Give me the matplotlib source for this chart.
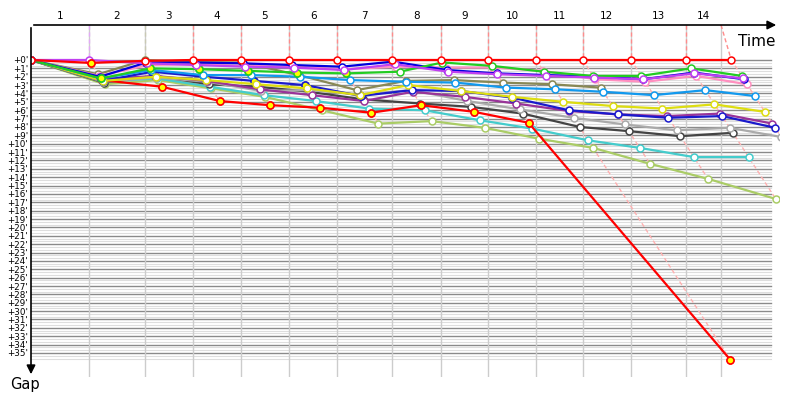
import matplotlib
matplotlib.use("Agg")
import matplotlib.pyplot as plt
from matplotlib.colors import to_rgb

# leader crossing times (minutes from start), lap 0..14
lap_times = [0, 10.7, 21.0, 29.9, 38.7, 47.6, 56.5, 66.6, 75.6, 84.3, 93.2, 101.8, 110.7, 120.8, 129.2]
finish_time = 127.3
lap_labels = [str(i) for i in range(1, 15)]

# gap to leader (minutes) at each lap
gap_red = [0, 0.35, 0.1, 0, 0, 0, 0, 0, 0, 0, 0, 0, 0, 0, 0]
gap_magenta = [0, 0, 0.4, 0.6, 0.8, 0.9, 1.2, 0.5, 1.4, 1.7, 1.9, 2.1, 2.3, 1.6, 2.2]
gap_green = [0, 2.2, 1.0, 1.1, 1.3, 1.5, 1.6, 1.4, 0.3, 0.7, 1.4, 1.9, 1.9, 1.0, 1.9]
gap_blue1 = [0, 2.0, 0.3, 0.3, 0.4, 0.6, 0.8, 0.2, 1.2, 1.6, 1.8, 2.0, 2.3, 1.5, 2.3]
gap_pink = [0, 1.9, 0.6, 0.5, 0.7, 0.8, 1.1, 0.8, 0.9, 0.9, 1.3, 2.3, 2.6, 1.9, 2.9]
gap_azure = [0, 2.2, 1.2, 1.8, 1.8, 2.0, 2.4, 2.6, 2.7, 3.3, 3.5, 3.8, 4.2, 3.6, 4.3]
gap_olive = [0, 1.7, 0, 0.25, 0.3, 1.8, 3.6, 2.5, 2.4, 2.7, 2.9, 3.3]
gap_yellow = [0, 2.5, 2.0, 2.4, 2.9, 3.4, 4.2, 3.0, 3.7, 4.4, 5.0, 5.5, 5.8, 5.3, 6.2]
gap_purple = [0, 2.3, 1.9, 2.5, 3.5, 4.2, 4.9, 3.8, 4.4, 5.2, 6.1, 6.5, 6.7, 6.4, 7.6]
gap_blue2 = [0, 2.5, 1.4, 2.0, 2.5, 3.0, 4.3, 3.6, 3.7, 4.5, 6.0, 6.5, 6.9, 6.7, 8.1]
gap_grey = [0, 2.6, 2.1, 2.6, 3.7, 3.6, 4.1, 3.6, 4.9, 5.9, 6.9, 7.7, 8.4, 8.1, 9.2]
gap_black = [0, 2.7, 1.9, 2.9, 3.2, 3.8, 4.7, 5.2, 5.6, 6.4, 8.0, 8.5, 9.1, 8.7]
gap_teal = [0, 2.6, 2.2, 3.2, 4.2, 4.9, 5.8, 6.0, 7.2, 8.2, 9.6, 10.5, 11.6, 11.6]
gap_lime = [0, 2.9, 2.4, 3.4, 4.4, 6.0, 7.6, 7.3, 8.1, 9.4, 10.5, 12.4, 14.2, 16.6]
gap_red2 = [0, 2.4, 3.2, 4.9, 5.4, 5.7, 6.3, 5.4, 6.2, 7.5, 35.8]

# (gaps, colour, laps drawn with yellow marker) in drawing order, leader last
series = [
    (gap_lime, "#aacc66", []),
    (gap_teal, "#44cccc", []),
    (gap_black, "#444444", []),
    (gap_grey, "#aaaaaa", []),
    (gap_red2, "#ff0000", list(range(1, 11))),
    (gap_purple, "#993399", []),
    (gap_blue2, "#1a1acc", [1, 2, 3, 4, 5, 6]),
    (gap_yellow, "#dddd11", []),
    (gap_olive, "#888855", []),
    (gap_azure, "#1199ee", []),
    (gap_pink, "#ff8fbf", []),
    (gap_blue1, "#0000dd", []),
    (gap_green, "#22cc22", [1, 2, 3, 4, 5, 6]),
    (gap_magenta, "#c040f0", []),
    (gap_red, "#ff0000", [1]),
]


def lighten(c, f=0.6):
    r, g, b = to_rgb(c)
    return (r + (1 - r) * f, g + (1 - g) * f, b + (1 - b) * f)


fig = plt.figure(figsize=(8, 4), dpi=100)
ax = fig.add_axes([31 / 800, 1 - 377 / 400, 748 / 800, 352 / 400])
x_max = 138.0
y_top, y_bot = -4.18, 37.87
ax.set_xlim(0, x_max)
ax.set_ylim(y_bot, y_top)

# horizontal grid: minutes (dark) and 20 s steps (light)
for m in range(36):
    ax.axhline(m, xmax=0.989, color="#8a8a8a", lw=1, zorder=1)
    for frac in (1 / 3, 2 / 3):
        ax.axhline(m + frac, xmax=0.989, color="#dedede", lw=0.8, zorder=0.9)

grid_times = lap_times[1:14] + [finish_time]
for t in grid_times:
    ax.axvline(t, ymin=0.0, color="#cccccc", lw=1, zorder=1.1)

# lap crossing lines
for k in range(1, len(lap_times)):
    gaps_k = [(s[0][k], s[1]) for s in series if len(s[0]) > k]
    gmax = max(g for g, _ in gaps_k)
    lead_col = min(gaps_k, key=lambda p: p[0])[1]
    ax.plot([grid_times[k - 1], lap_times[k]], [y_top, 0], color=lighten(lead_col, 0.55),
            lw=1, ls=(0, (3, 2)), zorder=1.5)
    ax.plot([lap_times[k], lap_times[k] + gmax], [0, gmax], color="#ffb0b0",
            lw=1, ls=(0, (3, 2)), zorder=1.5)

for gaps, col, ylaps in series:
    xs = [lap_times[i] + g for i, g in enumerate(gaps)]
    ax.plot(xs, gaps, color=col, lw=1.6, marker="o", ms=5, mfc="white", mec=col,
            mew=1.1, zorder=3)
    if ylaps:
        ax.plot([xs[i] for i in ylaps], [gaps[i] for i in ylaps], ls="none", marker="o",
                ms=5, mfc="#ffff00", mec=col, mew=1.1, zorder=3)

# axes with arrows
for s in ax.spines.values():
    s.set_visible(False)
ax.annotate("", xy=(1.0, 1.0), xytext=(0.0, 1.0), xycoords="axes fraction",
            arrowprops=dict(arrowstyle="-|>", color="black", lw=1.2, mutation_scale=13))
ax.annotate("", xy=(0.0, 0.0), xytext=(0.0, 1.0), xycoords="axes fraction",
            arrowprops=dict(arrowstyle="-|>", color="black", lw=1.2, mutation_scale=13))

ax.set_xticks([])
ax.set_yticks(range(36))
ax.set_yticklabels(["+%d'" % m for m in range(36)], fontsize=6.3)
ax.tick_params(axis="y", length=0, pad=2)

edges = [0] + grid_times
for i, lab in enumerate(lap_labels):
    ax.text((edges[i] + edges[i + 1]) / 2, 1.012, lab, transform=ax.get_xaxis_transform(),
            ha="center", va="bottom", fontsize=7.5)

ax.text(0.995, 0.975, "Time", transform=ax.transAxes, ha="right", va="top", fontsize=11)
fig.text(25 / 800, 1 - 385 / 400, "Gap", ha="center", va="center", fontsize=10.5)

fig.savefig("out.png", dpi=100)
